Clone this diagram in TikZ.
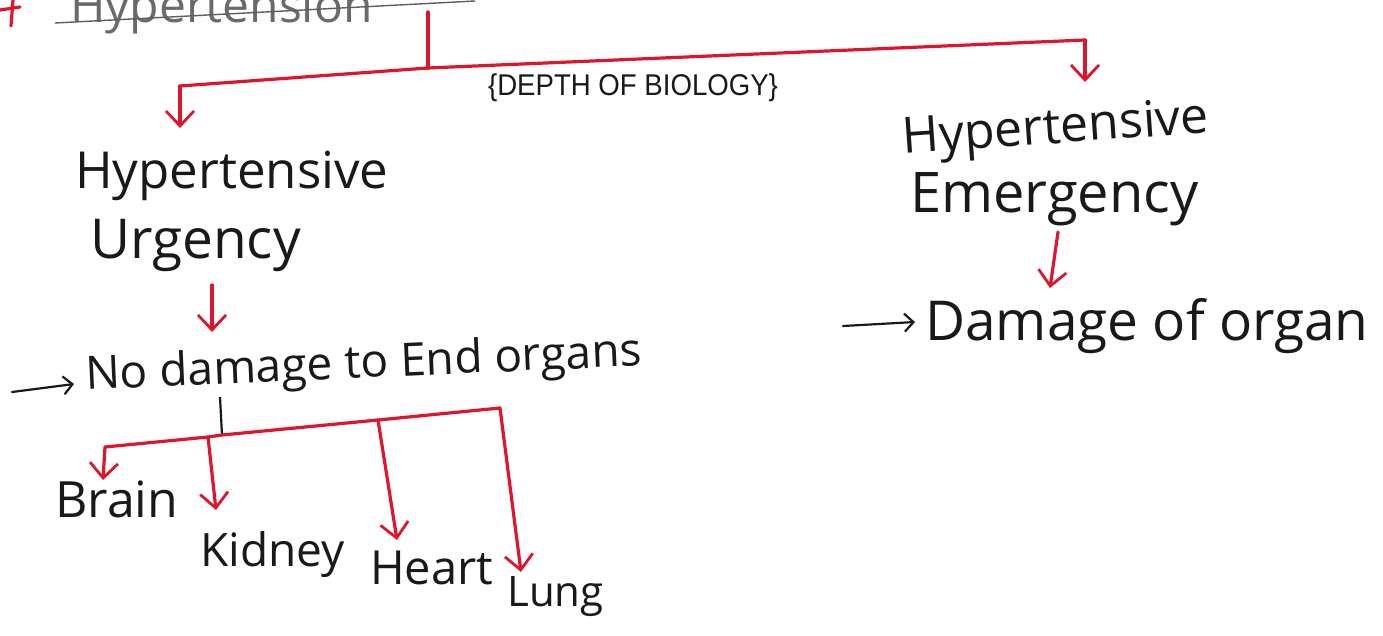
\documentclass[tikz,border=0pt]{standalone}
\usepackage{fontspec}
\setmainfont{Open Sans}
\newfontfamily\labelfont{Liberation Sans}
\usetikzlibrary{arrows.meta}
\definecolor{inkred}{RGB}{222,22,45}
\definecolor{ink}{RGB}{25,25,25}
\newcommand{\fsz}[1]{\fontsize{#1}{#1}\selectfont}
\begin{document}
\begin{tikzpicture}[x=1pt,y=-1pt,
  hand/.style={text=ink, inner sep=0pt, anchor=base west},
  redline/.style={draw=inkred, line width=3.2pt, line cap=round, line join=round},
  redarrow/.style={redline, -{Straight Barb[length=15pt,width=28pt,line width=2.8pt]}},
  blackarrow/.style={draw=ink, line width=2.2pt, line cap=round, -{Straight Barb[length=9pt,width=18pt,line width=2.2pt]}}]
\useasboundingbox (0,0) rectangle (1383,635);
\clip (0,0) rectangle (1383,635);
\fill[white] (0,0) rectangle (1383,635);

% title (cut off at the top)
\node[hand, text=ink!65, font=\fsz{48}] (title) at (70,22) {Hypertension};
\coordinate (ulA) at (55,23);
\coordinate (ulB) at (475,1);
\draw[ink!70, line width=1.4pt] (ulA) -- (ulB);
\coordinate (plA) at (13,0);
\coordinate (plB) at (11,26);
\coordinate (plC) at (0,10);
\coordinate (plD) at (20,7);
\draw[redline] (plA) -- (plB);
\draw[redline] (plC) -- (plD);

% top branch
\coordinate (top) at (428,12);
\coordinate (jA) at (428,68);
\coordinate (cL) at (180,86);
\coordinate (cR) at (1085,40);
\coordinate (tL) at (180,128);
\coordinate (tR) at (1085,82);
\draw[redline] (top) -- (jA);
\draw[redline] (cL) -- (jA) -- (cR);
\draw[redarrow] (cL) -- (tL);
\draw[redarrow] (cR) -- (tR);
\node[font=\labelfont\fsz{30}, text=ink, inner sep=0pt, xscale=0.92] (wm) at (633,88) {\{DEPTH OF BIOLOGY\}};

% left side
\node[hand, font=\fsz{51}] (urg1) at (75,188) {Hypertensive};
\node[hand, font=\fsz{55}] (urg2) at (90,258) {Urgency};
\coordinate (aU1) at (212,285);
\coordinate (aU2) at (212,332);
\draw[redarrow] (aU1) -- (aU2);
\coordinate (bA) at (12,392);
\coordinate (bB) at (74,384);
\draw[blackarrow] (bA) -- (bB);
\node[hand, font=\fsz{46}, rotate=2.5] (nod) at (86,390) {No damage to End organs};
\coordinate (sA) at (220,397);
\coordinate (jB) at (222,435);
\draw[ink, line width=2.2pt] (sA) -- (jB);

\coordinate (hL) at (105,447);
\coordinate (hK) at (208,437);
\coordinate (hH) at (378,420);
\coordinate (hG) at (500,408);
\draw[redline] (hL) -- (hK) -- (jB) -- (hH) -- (hG);
\coordinate (tB) at (103,480);
\coordinate (tK) at (216,510);
\coordinate (tH) at (397,540);
\coordinate (tG) at (521,572);
\draw[redarrow] (hL) -- (tB);
\draw[redarrow] (hK) -- (tK);
\draw[redarrow] (hH) -- (tH);
\draw[redarrow] (hG) -- (tG);
\node[hand, font=\fsz{50}] (brain) at (55,517) {Brain};
\node[hand, font=\fsz{46}] (kidney) at (200,566) {Kidney};
\node[hand, font=\fsz{47}] (heart) at (370,584) {Heart};
\node[hand, font=\fsz{42}] (lung) at (507,606) {Lung};

% right side
\node[hand, font=\fsz{50}, rotate=4] (em1) at (903,154) {Hypertensive};
\node[hand, font=\fsz{56}] (em2) at (910,212) {Emergency};
\coordinate (aE1) at (1058,232);
\coordinate (aE2) at (1050,288);
\draw[redarrow] (aE1) -- (aE2);
\coordinate (cA) at (843,326);
\coordinate (cB) at (915,322);
\draw[blackarrow] (cA) -- (cB);
\node[hand, font=\fsz{55}] (dmg) at (925,340) {Damage of organ};
\end{tikzpicture}
\end{document}
